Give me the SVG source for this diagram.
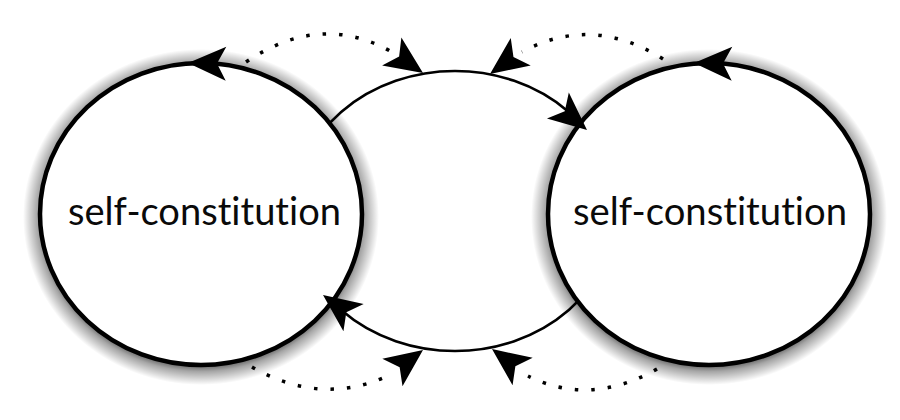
<svg xmlns="http://www.w3.org/2000/svg" xmlns:xlink="http://www.w3.org/1999/xlink" width="900" height="420" viewBox="0 0 900 420">
<style>
.circ{fill:#fff;stroke:#000;stroke-width:4.5}
.shd{fill:url(#shadowGrad)}
.mid{fill:#fff;stroke:#000;stroke-width:2.6}
.dot{fill:none;stroke:#000;stroke-width:3.5;stroke-dasharray:3.5 13}
.lbl{font-family:"Lato","Open Sans","Liberation Sans",sans-serif;font-size:39px;fill:#0a0a0a;text-anchor:middle;font-variant-ligatures:none;font-feature-settings:"liga" 0,"clig" 0}
.ah{fill:#000}
</style>
<defs>
<radialGradient id="shadowGrad" cx="0.5" cy="0.5" r="0.5">
<stop offset="0" stop-color="#000" stop-opacity="0.85"/>
<stop offset="0.85" stop-color="#000" stop-opacity="0.85"/>
<stop offset="0.92" stop-color="#000" stop-opacity="0.35"/>
<stop offset="1" stop-color="#000" stop-opacity="0"/>
</radialGradient>
<path id="ah" class="ah" d="M0,0 L-38,-17 L-29,0 L-38,17 Z"/>
</defs>
<rect width="900" height="420" fill="#fff"/>
<g id="node-middle">
<ellipse class="mid" cx="455" cy="211" rx="161" ry="140"/>
</g>
<g id="node-left">
<ellipse class="shd" cx="201" cy="217" rx="178" ry="168"/>
<ellipse class="circ" cx="201" cy="214" rx="161" ry="151"/>
<text class="lbl" x="204.5" y="225" textLength="273" lengthAdjust="spacingAndGlyphs">self-constitution</text>
</g>
<g id="node-right">
<ellipse class="shd" cx="709" cy="217" rx="178" ry="168"/>
<ellipse class="circ" cx="709" cy="214" rx="161" ry="151"/>
<text class="lbl" x="710" y="225" textLength="274" lengthAdjust="spacingAndGlyphs">self-constitution</text>
</g>
<g id="connectors">
<use xlink:href="#ah" href="#ah" transform="translate(188,63) rotate(181)"/>
<use xlink:href="#ah" href="#ah" transform="translate(694,63) rotate(181)"/>
<use xlink:href="#ah" href="#ah" transform="translate(587,130) rotate(40)"/>
<use xlink:href="#ah" href="#ah" transform="translate(323,295) rotate(216.5)"/>
<path class="dot" d="M246,62 Q320,12 390,51"/>
<use xlink:href="#ah" href="#ah" transform="translate(423,73) rotate(34.6)"/>
<path class="dot" d="M663,59 Q592,14 522,52"/>
<use xlink:href="#ah" href="#ah" transform="translate(490,74) rotate(144)"/>
<path class="dot" d="M252,367 Q318,405 383,378"/>
<use xlink:href="#ah" href="#ah" transform="translate(423,350) rotate(-36.4)"/>
<path class="dot" d="M657,369 Q590,407 528,376"/>
<use xlink:href="#ah" href="#ah" transform="translate(492,349) rotate(216.3)"/>
</g>
</svg>
